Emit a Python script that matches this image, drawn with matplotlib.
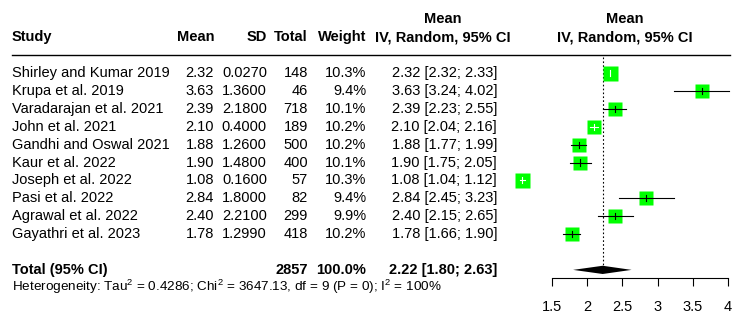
import numpy as np
import matplotlib
matplotlib.use("Agg")
import matplotlib.pyplot as plt

plt.rcParams['font.family'] = ['Liberation Sans', 'DejaVu Sans']
plt.rcParams['font.size'] = 10.5
plt.rcParams['mathtext.fontset'] = 'custom'
plt.rcParams['mathtext.rm'] = 'Liberation Sans'
plt.rcParams['mathtext.default'] = 'regular'

# data
studies = ["Shirley and Kumar 2019", "Krupa et al. 2019", "Varadarajan et al. 2021",
           "John et al. 2021", "Gandhi and Oswal 2021", "Kaur et al. 2022",
           "Joseph et al. 2022", "Pasi et al. 2022", "Agrawal et al. 2022",
           "Gayathri et al. 2023"]
means = [2.32, 3.63, 2.39, 2.10, 1.88, 1.90, 1.08, 2.84, 2.40, 1.78]
sds = ["0.0270", "1.3600", "2.1800", "0.4000", "1.2600", "1.4800", "0.1600",
       "1.8000", "2.2100", "1.2990"]
totals = [148, 46, 718, 189, 500, 400, 57, 82, 299, 418]
weights = [10.3, 9.4, 10.1, 10.2, 10.2, 10.1, 10.3, 9.4, 9.9, 10.2]
ci_lo = [2.32, 3.24, 2.23, 2.04, 1.77, 1.75, 1.04, 2.45, 2.15, 1.66]
ci_hi = [2.33, 4.02, 2.55, 2.16, 1.99, 2.05, 1.12, 3.23, 2.65, 1.90]
pooled = 2.22
pooled_lo = 1.80
pooled_hi = 2.63
total_n = 2857
xticks = [1.5, 2, 2.5, 3, 3.5, 4]
xticklabels = ["1.5", "2", "2.5", "3", "3.5", "4"]
het_text = "Heterogeneity: Tau$^2$ = 0.4286; Chi$^2$ = 3647.13, df = 9 (P = 0); I$^2$ = 100%"

W, H = 750, 325
fig = plt.figure(figsize=(W / 100, H / 100), dpi=100)
ylim = (14.08, -4.08)

# text panel, x in pixels, y in rows
tax = fig.add_axes([0, 0, 1, 1])
tax.set_xlim(0, W)
tax.set_ylim(*ylim)
tax.axis('off')

# forest panel
fax = fig.add_axes([552 / W, 0, 176 / W, 1])
fax.set_xlim(1.5, 4)
fax.set_ylim(*ylim)
fax.patch.set_visible(False)

rows = np.arange(len(studies))
total_row = 11

# headers
tax.text(12, -2, "Study", fontweight='bold', va='center', ha='left')
tax.text(214, -2, "Mean", fontweight='bold', va='center', ha='right')
tax.text(267, -2, "SD", fontweight='bold', va='center', ha='right')
tax.text(308, -2, "Total", fontweight='bold', va='center', ha='right')
tax.text(366, -2, "Weight", fontweight='bold', va='center', ha='right')
for xc in (443, 625):
    tax.text(xc, -3, "Mean", fontweight='bold', va='center', ha='center')
    tax.text(xc, -2, "IV, Random, 95% CI", fontweight='bold', va='center', ha='center')
tax.plot([12, 730], [-1, -1], color='black', lw=1)

# study rows
for r, s, m, sd, n, w, lo, hi in zip(rows, studies, means, sds, totals, weights, ci_lo, ci_hi):
    tax.text(12, r, s, va='center', ha='left')
    tax.text(214, r, f"{m:.2f}", va='center', ha='right')
    tax.text(267, r, sd, va='center', ha='right')
    tax.text(308, r, f"{n}", va='center', ha='right')
    tax.text(366, r, f"{w:.1f}%", va='center', ha='right')
    tax.text(497, r, f"{m:.2f} [{lo:.2f}; {hi:.2f}]", va='center', ha='right')

# total rows
tax.text(12, total_row, "Total (95% CI)", fontweight='bold', va='center', ha='left')
tax.text(308, total_row, f"{total_n}", fontweight='bold', va='center', ha='right')
tax.text(366, total_row, "100.0%", fontweight='bold', va='center', ha='right')
tax.text(497, total_row, f"{pooled:.2f} [{pooled_lo:.2f}; {pooled_hi:.2f}]",
         fontweight='bold', va='center', ha='right')
tax.text(12, total_row + 0.95, het_text, va='center', ha='left', fontsize=9.7)

# forest plot
px_per_unit = (fax.transData.transform((4, 0))[0] - fax.transData.transform((1.5, 0))[0]) / 2.5
fax.plot([pooled, pooled], [-0.9, 10.7], color='black', lw=0.8, ls=(0, (1.5, 2)))
for r, m, w, lo, hi in zip(rows, means, weights, ci_lo, ci_hi):
    side = 15 * np.sqrt(w / 10.3)  # box side in px
    fax.plot(m, r, marker='s', ms=side * 0.72, color='#00FF00', mec='none', clip_on=False)
    inside = (hi - lo) / 2 * px_per_unit < side / 2
    col = 'white' if inside else 'black'
    fax.plot([lo, hi], [r, r], color=col, lw=0.8, clip_on=False)
    fax.plot([m, m], [r - 0.17, r + 0.17], color=col, lw=0.8, clip_on=False)

fax.fill([pooled_lo, pooled, pooled_hi, pooled],
         [total_row, total_row - 0.23, total_row, total_row + 0.23],
         color='black', lw=0)

# x axis
for sp in ('top', 'left', 'right'):
    fax.spines[sp].set_visible(False)
fax.spines['bottom'].set_position(('data', 11.45))
fax.set_yticks([])
fax.set_xticks(xticks)
fax.set_xticklabels(xticklabels)
fax.tick_params(axis='x', direction='out', length=6, width=0.8, pad=10, labelsize=10.5)

fig.savefig("out.png", dpi=100)
